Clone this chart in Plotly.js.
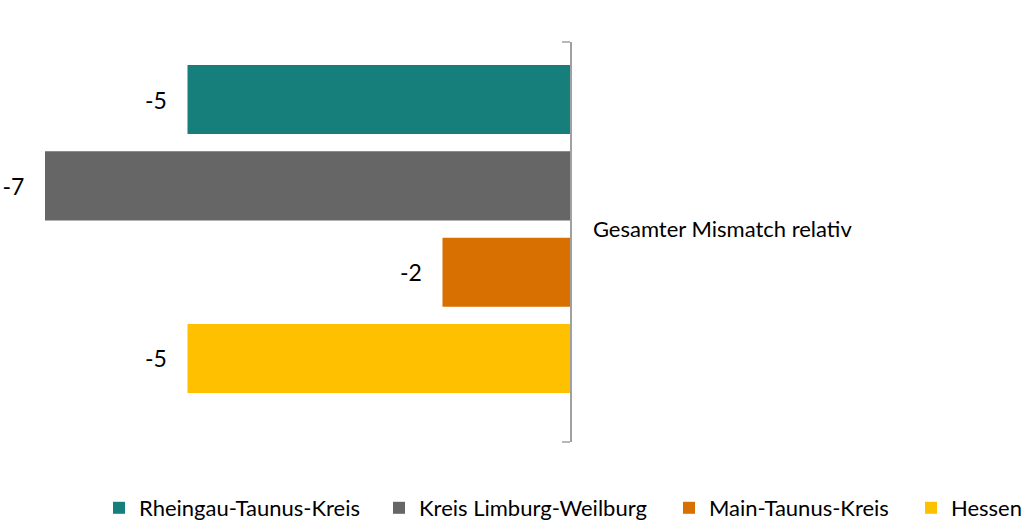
<!DOCTYPE html>
<html>
<head>
<meta charset="utf-8">
<script src="https://cdn.plot.ly/plotly-3.0.1.min.js"></script>
<style>html,body{margin:0;padding:0;background:#fff;}#chart{width:1022px;height:522px;}</style>
</head>
<body>
<div id="chart"></div>
<script>
const categories = ["Gesamter Mismatch relativ"];
const seriesNames = ["Rheingau-Taunus-Kreis", "Kreis Limburg-Weilburg", "Main-Taunus-Kreis", "Hessen"];
const seriesValues = [[-5.1], [-7.0], [-1.7], [-5.1]];
const seriesColors = ["#167F7B", "#666666", "#D77001", "#FFC000"];

const FONT = "Lato, 'Open Sans', sans-serif";
const FS = 22;
const legendIds = ["legend", "legend2", "legend3", "legend4"];
const legendX = [118, 398, 688, 930];

const traces = seriesNames.map((name, i) => ({
  type: "bar",
  orientation: "h",
  name: name,
  x: seriesValues[i],
  y: categories,
  legend: legendIds[i],
  marker: {color: seriesColors[i]},
  texttemplate: "%{x:.0f}\u00a0\u00a0\u00a0",
  textposition: "outside",
  textfont: {family: FONT, size: 23, color: "#000"},
  cliponaxis: false,
  hoverinfo: "x+name"
}));

const layout = {
  width: 1022, height: 522,
  margin: {l: 0, r: 0, t: 42, b: 80, autoexpand: false},
  paper_bgcolor: "#fff", plot_bgcolor: "#fff",
  barmode: "group",
  bargap: 0.1375,
  bargroupgap: 0.2,
  showlegend: true,
  font: {family: FONT, size: FS, color: "#000"},
  xaxis: {range: [-7.6, 6.027], visible: false, showgrid: false, zeroline: false, fixedrange: true},
  yaxis: {
    type: "category",
    range: [0.5325, -0.4675],
    anchor: "free", position: 570 / 1022, side: "right",
    showline: true, linecolor: "#a0a0a0", linewidth: 1.5,
    ticks: "", showgrid: false, zeroline: false,
    ticklabelstandoff: 17,
    tickfont: {family: FONT, size: FS, color: "#000"}
  },
  shapes: [
    {type: "line", xref: "x", xsizemode: "pixel", xanchor: 0, x0: -8, x1: 0, yref: "paper", y0: 1, y1: 1, line: {color: "#a0a0a0", width: 1.5}},
    {type: "line", xref: "x", xsizemode: "pixel", xanchor: 0, x0: -8, x1: 0, yref: "paper", y0: 0, y1: 0, line: {color: "#a0a0a0", width: 1.5}}
  ]
};
legendIds.forEach((id, i) => {
  layout[id] = {
    orientation: "h", x: (legendX[i] - 10) / 1022, xanchor: "left", xref: "paper",
    y: -0.165, yanchor: "middle",
    font: {family: FONT, size: FS, color: "#000"},
    itemwidth: 30, indentation: -9, bgcolor: "rgba(0,0,0,0)"
  };
});

Plotly.newPlot("chart", traces, layout, {displayModeBar: false, staticPlot: true});
</script>
</body>
</html>
